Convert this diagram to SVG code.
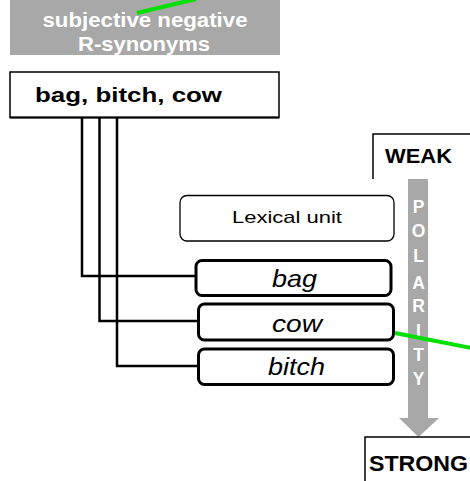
<svg xmlns="http://www.w3.org/2000/svg" width="470" height="481" viewBox="0 0 470 481">
<style>
.b{font-family:"Liberation Sans",Arial,sans-serif;font-weight:bold}
.r{font-family:"Liberation Sans",Arial,sans-serif}
.i{font-family:"Liberation Sans",Arial,sans-serif;font-style:italic;font-size:24px}
.conn{fill:none;stroke:#000;stroke-width:2.5}
.unit{fill:#fff;stroke:#000;stroke-width:3}
.pl{font-family:"Liberation Sans",Arial,sans-serif;font-weight:bold;font-size:17.5px;fill:#fff;text-anchor:middle}
.green{stroke:#00e000;stroke-width:4;fill:none}
</style>
<rect width="470" height="481" fill="#fff"/>
<g id="category">
<rect x="10" y="0" width="270" height="55" fill="#a8a8a8"/>
<text class="b" x="145" y="27" font-size="20" fill="#fff" text-anchor="middle" textLength="205" lengthAdjust="spacingAndGlyphs">subjective negative</text>
<text class="b" x="144" y="51" font-size="20" fill="#fff" text-anchor="middle" textLength="132" lengthAdjust="spacingAndGlyphs">R-synonyms</text>
</g>
<g id="synonyms">
<rect x="10" y="72" width="269" height="45.5" fill="#fff" stroke="#000" stroke-width="1.5"/>
<line x1="10" y1="117.5" x2="279" y2="117.5" stroke="#000" stroke-width="2"/>
<text class="b" x="128.5" y="102" font-size="20.5" text-anchor="middle" textLength="187" lengthAdjust="spacingAndGlyphs">bag, bitch, cow</text>
</g>
<g id="connectors">
<polyline class="conn" points="82,118 82,276 196,276"/>
<polyline class="conn" points="99.5,118 99.5,321 198,321"/>
<polyline class="conn" points="117,118 117,366 198,366"/>
</g>
<g id="lexical-unit">
<rect x="180" y="195.5" width="214" height="45.5" rx="7" fill="#fff" stroke="#000" stroke-width="1.3"/>
<text class="r" x="287" y="223" font-size="16.5" text-anchor="middle" textLength="110" lengthAdjust="spacingAndGlyphs">Lexical unit</text>
</g>
<g id="bag">
<rect class="unit" x="196" y="260.5" width="195" height="35" rx="6"/>
<text class="i" x="294.5" y="287" text-anchor="middle" textLength="45" lengthAdjust="spacingAndGlyphs">bag</text>
</g>
<g id="cow">
<rect class="unit" x="198.5" y="304" width="195" height="36" rx="6"/>
<text class="i" x="297" y="332" text-anchor="middle" textLength="50" lengthAdjust="spacingAndGlyphs">cow</text>
</g>
<g id="bitch">
<rect class="unit" x="198.5" y="349" width="195" height="35.5" rx="6"/>
<text class="i" x="296.5" y="375" text-anchor="middle" textLength="57" lengthAdjust="spacingAndGlyphs">bitch</text>
</g>
<g id="weak">
<polyline points="470,134 373,134 373,179" fill="none" stroke="#000" stroke-width="1.5"/>
<text class="b" x="418.5" y="163" font-size="20" text-anchor="middle" textLength="67" lengthAdjust="spacingAndGlyphs">WEAK</text>
</g>
<g id="polarity">
<polygon points="408,179 428,179 428,418 439,418 418.5,437 399,418 408,418" fill="#a8a8a8"/>
<text class="pl" x="418.5" y="213">P</text>
<text class="pl" x="418.5" y="237">O</text>
<text class="pl" x="418.5" y="262">L</text>
<text class="pl" x="418.5" y="289">A</text>
<text class="pl" x="418.5" y="312">R</text>
<text class="pl" x="418.5" y="337">I</text>
<text class="pl" x="418.5" y="361">T</text>
<text class="pl" x="418.5" y="385">Y</text>
</g>
<g id="strong">
<polyline points="470,437 365,437 365,481" fill="none" stroke="#000" stroke-width="1.5"/>
<text class="b" x="369" y="471" font-size="22" textLength="99" lengthAdjust="spacingAndGlyphs">STRONG</text>
</g>
<g id="links">
<line class="green" x1="137" y1="13" x2="196" y2="-1"/>
<line class="green" x1="395" y1="333" x2="471" y2="348"/>
</g>
</svg>
